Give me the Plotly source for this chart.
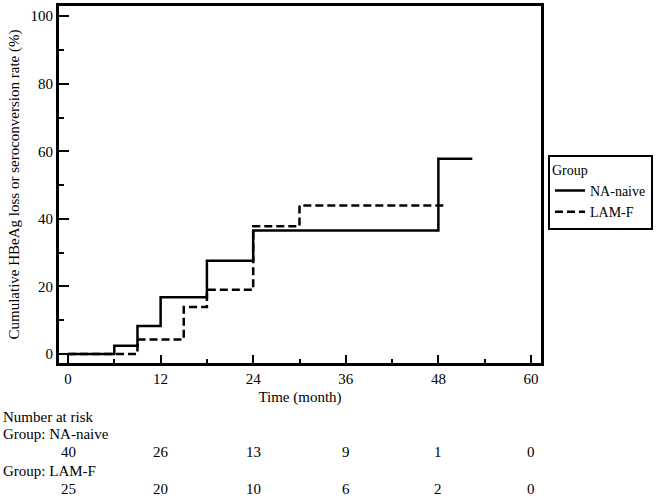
import plotly.graph_objects as go

# ---- data ----
na_time = [0, 6, 9, 12, 18, 24, 48, 52.4]
na_rate = [0, 2.5, 8.3, 16.8, 27.6, 36.6, 57.8, 57.8]

lam_time = [0, 9, 15, 18, 24, 30, 49]
lam_rate = [0, 4.3, 13.9, 19.0, 37.8, 44.0, 44.0]

risk_times = [0, 12, 24, 36, 48, 60]
risk_na = [40, 26, 13, 9, 1, 0]
risk_lam = [25, 20, 10, 6, 2, 0]

FONT = "Liberation Serif, Times New Roman, serif"
FS = 15

fig = go.Figure()
fig.add_trace(go.Scatter(x=na_time, y=na_rate, mode="lines", name="NA-naive",
                         line=dict(shape="hv", color="black", width=2.5)))
fig.add_trace(go.Scatter(x=lam_time, y=lam_rate, mode="lines", name="LAM-F",
                         line=dict(shape="hv", color="black", width=2.5, dash="8px,4px")))

W, H = 666, 498
ml, mr, mt, mb = 59, 125, 3, 135
pw, ph = W - ml - mr, H - mt - mb


def py(pix):
    return (H - mb - pix) / ph


def px(pix):
    return (pix - ml) / pw


ann = []
ann.append(dict(text="Number at risk", x=px(1), y=py(417), xref="paper", yref="paper",
                xanchor="left", yanchor="middle", showarrow=False))
ann.append(dict(text="Group: NA-naive", x=px(1), y=py(435), xref="paper", yref="paper",
                xanchor="left", yanchor="middle", showarrow=False))
for t, n in zip(risk_times, risk_na):
    ann.append(dict(text=str(n), x=t, y=py(453), xref="x", yref="paper",
                    xanchor="center", yanchor="middle", showarrow=False))
ann.append(dict(text="Group: LAM-F", x=px(1), y=py(472), xref="paper", yref="paper",
                xanchor="left", yanchor="middle", showarrow=False))
for t, n in zip(risk_times, risk_lam):
    ann.append(dict(text=str(n), x=t, y=py(490), xref="x", yref="paper",
                    xanchor="center", yanchor="middle", showarrow=False))

fig.update_layout(
    width=W, height=H,
    margin=dict(l=ml, r=mr, t=mt, b=mb),
    paper_bgcolor="white", plot_bgcolor="white",
    font=dict(family=FONT, size=FS, color="black"),
    annotations=ann,
    legend=dict(
        title=dict(text="Group", font=dict(family=FONT, size=14)),
        x=px(548), y=py(153), xanchor="left", yanchor="top",
        bordercolor="black", borderwidth=2, bgcolor="white",
        font=dict(family=FONT, size=14), itemwidth=30,
        tracegroupgap=0,
    ),
    xaxis=dict(
        range=[-1.17, 61.3], tickvals=risk_times, ticktext=[str(v) for v in risk_times],
        ticks="inside", ticklen=8, tickwidth=2, tickcolor="black",
        showline=True, linewidth=3, linecolor="black", mirror=True,
        showgrid=False, zeroline=False,
        minor=dict(tickvals=[6, 18, 30, 42, 54], ticks="inside", ticklen=4,
                   tickwidth=1.5, tickcolor="black", showgrid=False),
        title=dict(text="Time (month)", standoff=6, font=dict(family=FONT, size=FS)),
        tickfont=dict(family=FONT, size=FS),
    ),
    yaxis=dict(
        range=[-2.64, 103], tickvals=[0, 20, 40, 60, 80, 100],
        ticks="inside", ticklen=10, tickwidth=2, tickcolor="black",
        showline=True, linewidth=3, linecolor="black", mirror=True,
        showgrid=False, zeroline=False,
        minor=dict(tickvals=[10, 30, 50, 70, 90], ticks="inside", ticklen=5,
                   tickwidth=1.5, tickcolor="black", showgrid=False),
        title=dict(text="Cumulative HBeAg loss or seroconversion rate (%)", standoff=8,
                   font=dict(family=FONT, size=FS)),
        tickfont=dict(family=FONT, size=FS),
    ),
)

fig.write_html("out.html", config={"displayModeBar": False},
               post_script="document.body.style.margin='0';")
